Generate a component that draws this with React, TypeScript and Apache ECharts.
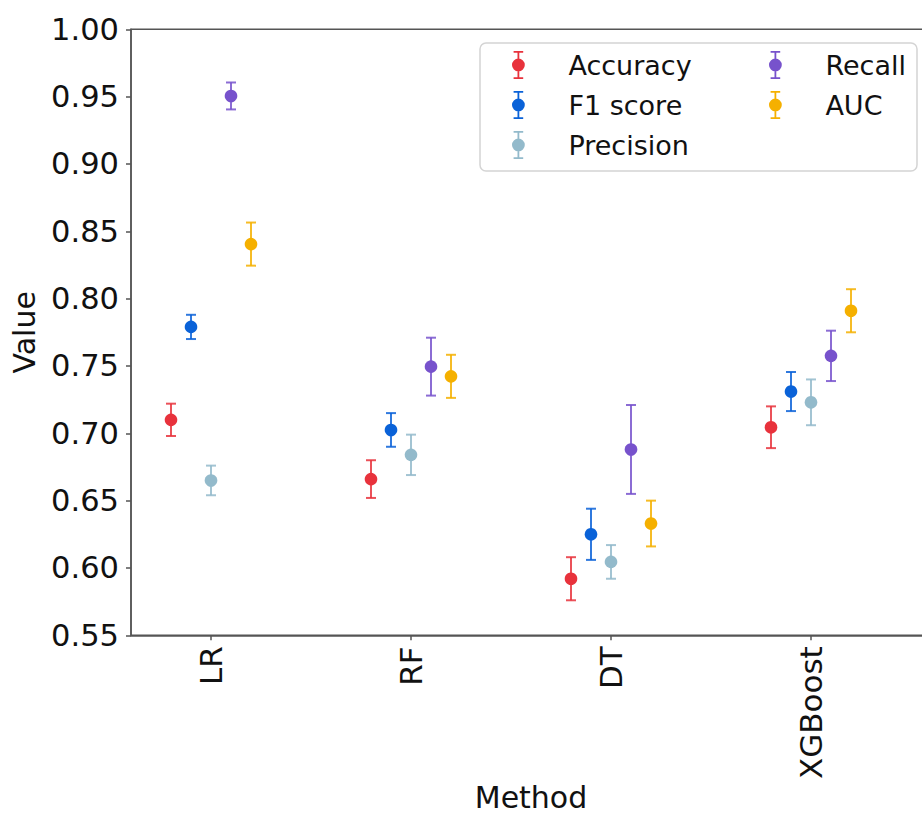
import React, { useEffect, useRef } from "react";
import * as echarts from "echarts";

const methods = ["LR", "RF", "DT", "XGBoost"];
const metricNames = ["Accuracy", "F1 score", "Precision", "Recall", "AUC"];
const metricColors = ["#E8323C", "#0A62D8", "#93BACB", "#7752CC", "#F5B000"];
const metricOffsets = [-0.2, -0.1, 0, 0.1, 0.2];

const accuracy = [0.71, 0.666, 0.592, 0.7045];
const accuracyErr = [0.012, 0.014, 0.016, 0.0155];
const f1Score = [0.779, 0.7025, 0.625, 0.731];
const f1ScoreErr = [0.009, 0.0125, 0.019, 0.0145];
const precision = [0.665, 0.684, 0.6045, 0.723];
const precisionErr = [0.011, 0.015, 0.0125, 0.017];
const recall = [0.9505, 0.7495, 0.688, 0.7575];
const recallErr = [0.01, 0.0215, 0.033, 0.0187];
const auc = [0.8405, 0.7423, 0.633, 0.791];
const aucErr = [0.016, 0.016, 0.017, 0.016];

const yTicks = [0.55, 0.6, 0.65, 0.7, 0.75, 0.8, 0.85, 0.9, 0.95, 1.0];

const metricValues = [accuracy, f1Score, precision, recall, auc];
const metricErrors = [accuracyErr, f1ScoreErr, precisionErr, recallErr, aucErr];

const FONT = "DejaVu Sans";
const errIcon =
  "path://M2.2,0H11.8V1.7H2.2Z M6.1,0H7.9V28H6.1Z M2.2,26.3H11.8V28H2.2Z M0.6,14A6.4,6.4,0,1,1,13.4,14A6.4,6.4,0,1,1,0.6,14Z";

export default function App() {
  const ref = useRef<HTMLDivElement>(null);

  useEffect(() => {
    if (!ref.current) return;
    const chart = echarts.init(ref.current, undefined, { renderer: "svg" });

    const series = metricNames.map((name, k) => {
      const color = metricColors[k];
      const data = methods.map((_, i) => [
        i + metricOffsets[k],
        metricValues[k][i],
        metricErrors[k][i],
      ]);
      return {
        type: "custom",
        name,
        itemStyle: { color },
        data,
        encode: { x: 0, y: 1 },
        renderItem: (params: any, api: any) => {
          const x = api.value(0);
          const y = api.value(1);
          const e = api.value(2);
          const c = api.coord([x, y]);
          const hi = api.coord([x, y + e]);
          const lo = api.coord([x, y - e]);
          const ls = { stroke: color, lineWidth: 2, opacity: 0.85 };
          return {
            type: "group",
            children: [
              { type: "line", shape: { x1: c[0], y1: hi[1], x2: c[0], y2: lo[1] }, style: ls },
              { type: "line", shape: { x1: c[0] - 5, y1: hi[1], x2: c[0] + 5, y2: hi[1] }, style: ls },
              { type: "line", shape: { x1: c[0] - 5, y1: lo[1], x2: c[0] + 5, y2: lo[1] }, style: ls },
              { type: "circle", shape: { cx: c[0], cy: c[1], r: 6.3 }, style: { fill: color } },
            ],
          };
        },
      };
    });

    const legendBase = {
      orient: "vertical",
      top: 51,
      padding: 0,
      itemGap: 12,
      itemWidth: 90,
      itemHeight: 28,
      icon: errIcon,
      z: 6,
      textStyle: { fontSize: 27, color: "#111", fontFamily: FONT },
    };

    chart.setOption({
      animation: false,
      backgroundColor: "#ffffff",
      textStyle: { fontFamily: FONT },
      grid: {
        left: 131,
        top: 29.3,
        right: -9,
        bottom: 179.7,
        show: true,
        borderColor: "#555555",
        borderWidth: 1.5,
        outerBoundsMode: "none",
        containLabel: false,
      },
      xAxis: {
        type: "value",
        min: -0.4,
        max: 3.6,
        name: "Method",
        nameLocation: "middle",
        nameGap: 147,
        nameMoveOverlap: false,
        nameTextStyle: { fontSize: 30, color: "#111", fontFamily: FONT },
        axisLine: { show: true, onZero: false, lineStyle: { color: "#555555", width: 1.5 } },
        axisTick: { show: true, length: 5, lineStyle: { color: "#555555", width: 1.5 }, customValues: [0, 1, 2, 3] },
        axisLabel: {
          customValues: [0, 1, 2, 3],
          rotate: 90,
          margin: 11,
          fontSize: 31,
          color: "#111",
          fontFamily: FONT,
          formatter: (v: number) => methods[Math.round(v)] ?? "",
        },
        splitLine: { show: false },
      },
      yAxis: {
        type: "value",
        min: yTicks[0],
        max: yTicks[yTicks.length - 1],
        interval: 0.05,
        name: "Value",
        nameLocation: "middle",
        nameGap: 92,
        nameMoveOverlap: false,
        nameTextStyle: { fontSize: 30, color: "#111", fontFamily: FONT },
        axisLine: { show: true, onZero: false, lineStyle: { color: "#555555", width: 1.5 } },
        axisTick: { show: true, length: 5, lineStyle: { color: "#555555", width: 1.5 } },
        axisLabel: {
          margin: 12,
          fontSize: 30.5,
          color: "#111",
          fontFamily: FONT,
          formatter: (v: number) => v.toFixed(2),
        },
        splitLine: { show: false },
      },
      legend: [
        { ...legendBase, left: 512, data: metricNames.slice(0, 3) },
        { ...legendBase, left: 769, data: metricNames.slice(3) },
      ],
      graphic: [
        {
          type: "rect",
          z: 5,
          shape: { x: 480, y: 43, width: 437, height: 128, r: 6 },
          style: { fill: "rgba(255,255,255,0.8)", stroke: "#d4d4d4", lineWidth: 1.5 },
        },
      ],
      series,
    });

    return () => chart.dispose();
  }, []);

  return (
    <div
      ref={ref}
      style={{ position: "absolute", left: 0, top: 0, width: 922, height: 815 }}
    />
  );
}
